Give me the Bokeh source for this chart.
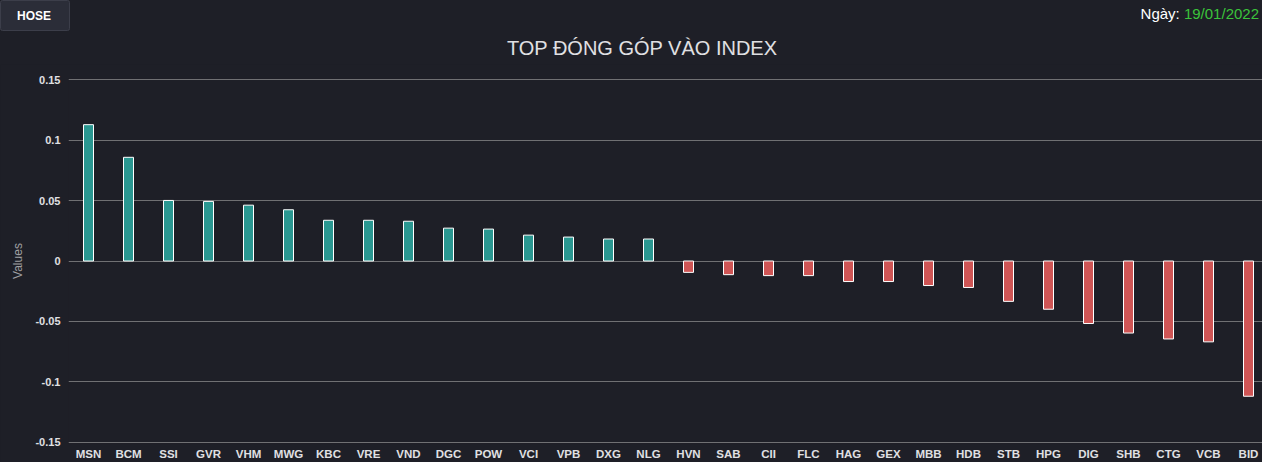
from bokeh.plotting import figure
from bokeh.layouts import column
from bokeh.models import Range1d, FixedTicker, CustomJSTickFormatter, ColumnDataSource, Div
from bokeh.embed import file_html
from bokeh.resources import INLINE

# ---- data ----
symbols = ["MSN", "BCM", "SSI", "GVR", "VHM", "MWG", "KBC", "VRE", "VND", "DGC",
           "POW", "VCI", "VPB", "DXG", "NLG", "HVN", "SAB", "CII", "FLC", "HAG",
           "GEX", "MBB", "HDB", "STB", "HPG", "DIG", "SHB", "CTG", "VCB", "BID"]
values = [0.1128, 0.0858, 0.0501, 0.0493, 0.0462, 0.0424, 0.0337, 0.0337, 0.0329, 0.0272,
          0.0264, 0.0214, 0.0198, 0.0182, 0.0182, -0.0094, -0.0113, -0.0121, -0.0121, -0.0170,
          -0.0170, -0.0203, -0.0219, -0.0334, -0.0399, -0.0517, -0.0596, -0.0645, -0.0669, -0.1119]
y_ticks = [-0.15, -0.1, -0.05, 0, 0.05, 0.1, 0.15]
title_text = "TOP ĐÓNG GÓP VÀO INDEX"
exchange = "HOSE"
date_label = "Ngày:"
date_value = "19/01/2022"

BG = "#1e1f27"
UP = "#2a9791"
DOWN = "#cf5555"
GRID = "#707073"
TXT = "#e0e0e3"
FONT = "Liberation Sans"

W = 1262
HEAD_H = 64
MAIN_H = 398

# ---- header strip (button, title, date) as inline SVG text ----
header_svg = f"""
<svg xmlns="http://www.w3.org/2000/svg" width="{W}" height="{HEAD_H}" style="display:block">
  <rect x="0" y="0" width="{W}" height="{HEAD_H}" fill="{BG}"/>
  <rect x="0.5" y="0.5" width="69" height="30" rx="2" ry="2" fill="#2b2d38" stroke="#3c3e4a" stroke-width="1"/>
  <text x="34" y="16" text-anchor="middle" dominant-baseline="central"
        font-family="{FONT}" font-size="12px" font-weight="bold" fill="#ffffff">{exchange}</text>
  <text x="642" y="48" text-anchor="middle" dominant-baseline="central"
        font-family="{FONT}" font-size="20px" fill="{TXT}">{title_text}</text>
  <text x="1259" y="13" text-anchor="end" dominant-baseline="central"
        font-family="{FONT}" font-size="15px"><tspan fill="#ffffff">{date_label} </tspan><tspan fill="#3bc43b">{date_value}</tspan></text>
</svg>
"""
head = Div(text=header_svg, width=W, height=HEAD_H,
           styles={"background-color": BG, "margin": "0", "padding": "0"})

# ---- main chart ----
idx = list(range(len(symbols)))
colors = [UP if v >= 0 else DOWN for v in values]
src = ColumnDataSource(dict(x=idx, top=values, color=colors))

chart = figure(width=W, height=MAIN_H, output_backend="svg", toolbar_location=None,
               x_range=Range1d(-0.5, 29.35), y_range=Range1d(-0.151, 0.151),
               styles={"background-color": BG})
chart.background_fill_color = BG
chart.border_fill_color = BG
chart.outline_line_color = None
chart.min_border_left = 68
chart.min_border_right = 0
chart.min_border_top = 14
chart.min_border_bottom = 17

chart.vbar(x="x", top="top", bottom=0, width=0.25, source=src,
           fill_color="color", line_color="#ffffff", line_width=1)

xa = chart.xaxis[0]
xa.ticker = FixedTicker(ticks=idx)
xa.major_label_overrides = {i: s for i, s in enumerate(symbols)}
xa.axis_line_color = None
xa.major_tick_line_color = None
xa.minor_tick_line_color = None
xa.major_tick_out = 0
xa.major_tick_in = 0
xa.major_label_standoff = 4
xa.major_label_text_color = TXT
xa.major_label_text_font = FONT
xa.major_label_text_font_size = "11.5px"
xa.major_label_text_font_style = "bold"

ya = chart.yaxis[0]
ya.ticker = FixedTicker(ticks=y_ticks)
ya.formatter = CustomJSTickFormatter(code="return String(Math.round(tick*100)/100)")
ya.axis_line_color = None
ya.major_tick_line_color = None
ya.minor_tick_line_color = None
ya.major_tick_out = 0
ya.major_tick_in = 0
ya.major_label_standoff = 8
ya.major_label_text_color = TXT
ya.major_label_text_font = FONT
ya.major_label_text_font_size = "11px"
ya.major_label_text_font_style = "bold"
ya.axis_label = "Values"
ya.axis_label_text_color = "#a0a0a3"
ya.axis_label_text_font = FONT
ya.axis_label_text_font_size = "12px"
ya.axis_label_text_font_style = "normal"
ya.axis_label_standoff = 7

chart.xgrid.grid_line_color = None
chart.ygrid.grid_line_color = GRID
chart.ygrid.grid_line_width = 1

p = column(head, chart, spacing=0, styles={"background-color": BG})

open("out.html", "w").write(file_html(p, INLINE))
